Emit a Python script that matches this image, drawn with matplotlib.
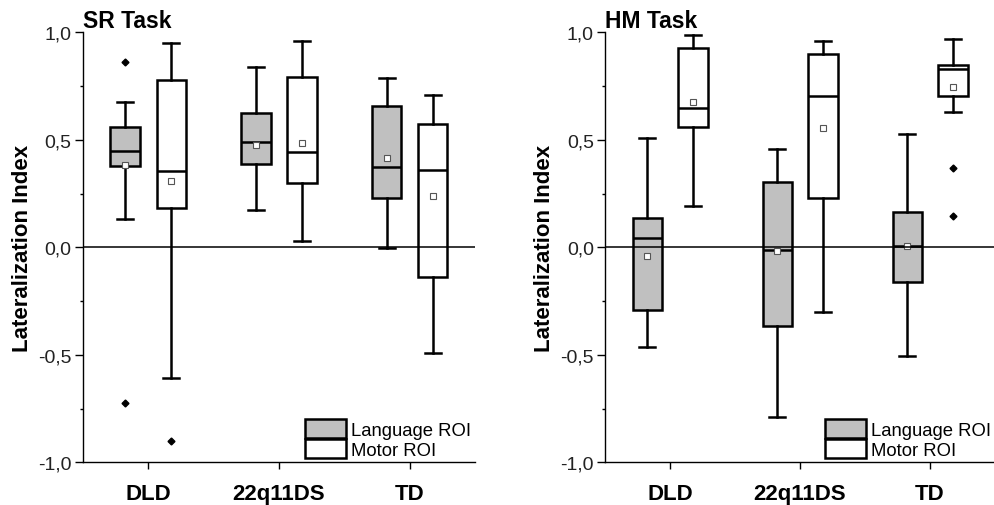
import matplotlib
matplotlib.use("Agg")
import matplotlib.pyplot as plt
from matplotlib.patches import Patch

plt.rcParams["font.family"] = ["Liberation Sans", "DejaVu Sans"]

groups = ["DLD", "22q11DS", "TD"]

# SR task - box stats per group (DLD, 22q11DS, TD)
sr_lang_whislo = [0.13, 0.173, -0.005]
sr_lang_q1 = [0.38, 0.387, 0.228]
sr_lang_med = [0.447, 0.491, 0.375]
sr_lang_q3 = [0.56, 0.625, 0.659]
sr_lang_whishi = [0.677, 0.838, 0.786]
sr_lang_mean = [0.384, 0.477, 0.417]
sr_lang_fliers = [[0.863, -0.723], [], []]

sr_mot_whislo = [-0.607, 0.028, -0.493]
sr_mot_q1 = [0.183, 0.30, -0.14]
sr_mot_med = [0.353, 0.443, 0.361]
sr_mot_q3 = [0.78, 0.79, 0.573]
sr_mot_whishi = [0.95, 0.96, 0.71]
sr_mot_mean = [0.308, 0.487, 0.237]
sr_mot_fliers = [[-0.90], [], []]

# HM task
hm_lang_whislo = [-0.465, -0.791, -0.507]
hm_lang_q1 = [-0.29, -0.365, -0.163]
hm_lang_med = [0.043, -0.011, 0.005]
hm_lang_q3 = [0.138, 0.302, 0.163]
hm_lang_whishi = [0.507, 0.456, 0.526]
hm_lang_mean = [-0.039, -0.019, 0.005]
hm_lang_fliers = [[], [], []]

hm_mot_whislo = [0.193, -0.302, 0.631]
hm_mot_q1 = [0.558, 0.228, 0.702]
hm_mot_med = [0.647, 0.705, 0.828]
hm_mot_q3 = [0.928, 0.899, 0.849]
hm_mot_whishi = [0.986, 0.96, 0.967]
hm_mot_mean = [0.677, 0.555, 0.744]
hm_mot_fliers = [[], [], [0.37, 0.144]]


def make_stats(lo, q1, med, q3, hi, mean, fl):
    return [dict(whislo=lo[i], q1=q1[i], med=med[i], q3=q3[i], whishi=hi[i],
                 mean=mean[i], fliers=fl[i]) for i in range(len(lo))]


gray = "#c0c0c0"


def draw_boxes(ax, stats, offset, color):
    pos = [i + 1 + offset for i in range(len(stats))]
    ax.bxp(stats, positions=pos, widths=0.225, patch_artist=True,
           showmeans=True, capwidths=0.12, manage_ticks=False,
           boxprops=dict(facecolor=color, edgecolor="black", linewidth=1.8),
           whiskerprops=dict(color="black", linewidth=1.8),
           capprops=dict(color="black", linewidth=1.8),
           medianprops=dict(color="black", linewidth=1.8),
           meanprops=dict(marker="s", markerfacecolor="white",
                          markeredgecolor="#555555", markersize=4,
                          markeredgewidth=0.8),
           flierprops=dict(marker="D", markerfacecolor="black",
                           markeredgecolor="black", markersize=3.5))


fig = plt.figure(figsize=(9.95, 5.06), dpi=100)
ax1 = fig.add_axes([0.0831, 0.0844, 0.3943, 0.8497])
ax2 = fig.add_axes([0.608, 0.0844, 0.392, 0.8497])

panels = [
    (ax1, "SR Task",
     make_stats(sr_lang_whislo, sr_lang_q1, sr_lang_med, sr_lang_q3, sr_lang_whishi, sr_lang_mean, sr_lang_fliers),
     make_stats(sr_mot_whislo, sr_mot_q1, sr_mot_med, sr_mot_q3, sr_mot_whishi, sr_mot_mean, sr_mot_fliers)),
    (ax2, "HM Task",
     make_stats(hm_lang_whislo, hm_lang_q1, hm_lang_med, hm_lang_q3, hm_lang_whishi, hm_lang_mean, hm_lang_fliers),
     make_stats(hm_mot_whislo, hm_mot_q1, hm_mot_med, hm_mot_q3, hm_mot_whishi, hm_mot_mean, hm_mot_fliers)),
]

for ax, title, lang, mot in panels:
    draw_boxes(ax, lang, -0.175, gray)
    draw_boxes(ax, mot, 0.177, "white")
    ax.axhline(0, color="black", linewidth=1.1, zorder=5)
    ax.set_xlim(0.5, 3.5)
    ax.set_ylim(-1.0, 1.0)
    ax.set_xticks([1, 2, 3])
    ax.set_xticklabels(groups, fontsize=16, fontweight="bold")
    ax.set_yticks([-1.0, -0.5, 0.0, 0.5, 1.0])
    ax.set_yticklabels(["-1,0", "-0,5", "0,0", "0,5", "1,0"], fontsize=14, color="#222222")
    ax.set_yticks([-0.75, -0.25, 0.25, 0.75], minor=True)
    ax.tick_params(axis="y", which="major", length=6, width=1, pad=2)
    ax.tick_params(axis="y", which="minor", length=2.5, width=1)
    ax.tick_params(axis="x", which="major", length=5, width=1, pad=10)
    for s in ["top", "right"]:
        ax.spines[s].set_visible(False)
    for s in ["left", "bottom"]:
        ax.spines[s].set_linewidth(1.0)
    ax.set_ylabel("Lateralization Index", fontsize=16, fontweight="bold", labelpad=4)
    ax.set_title(title, loc="left", fontsize=16.5, fontweight="bold", pad=2)
    handles = [Patch(facecolor=gray, edgecolor="black", linewidth=1.8),
               Patch(facecolor="white", edgecolor="black", linewidth=1.8)]
    ax.legend(handles, ["Language ROI", "Motor ROI"], loc="lower right",
              frameon=False, fontsize=13.3, handlelength=2.2, handleheight=1.25,
              labelspacing=0.0, handletextpad=0.3, borderaxespad=0.0,
              borderpad=0.2)

fig.savefig("out.png", dpi=100)
